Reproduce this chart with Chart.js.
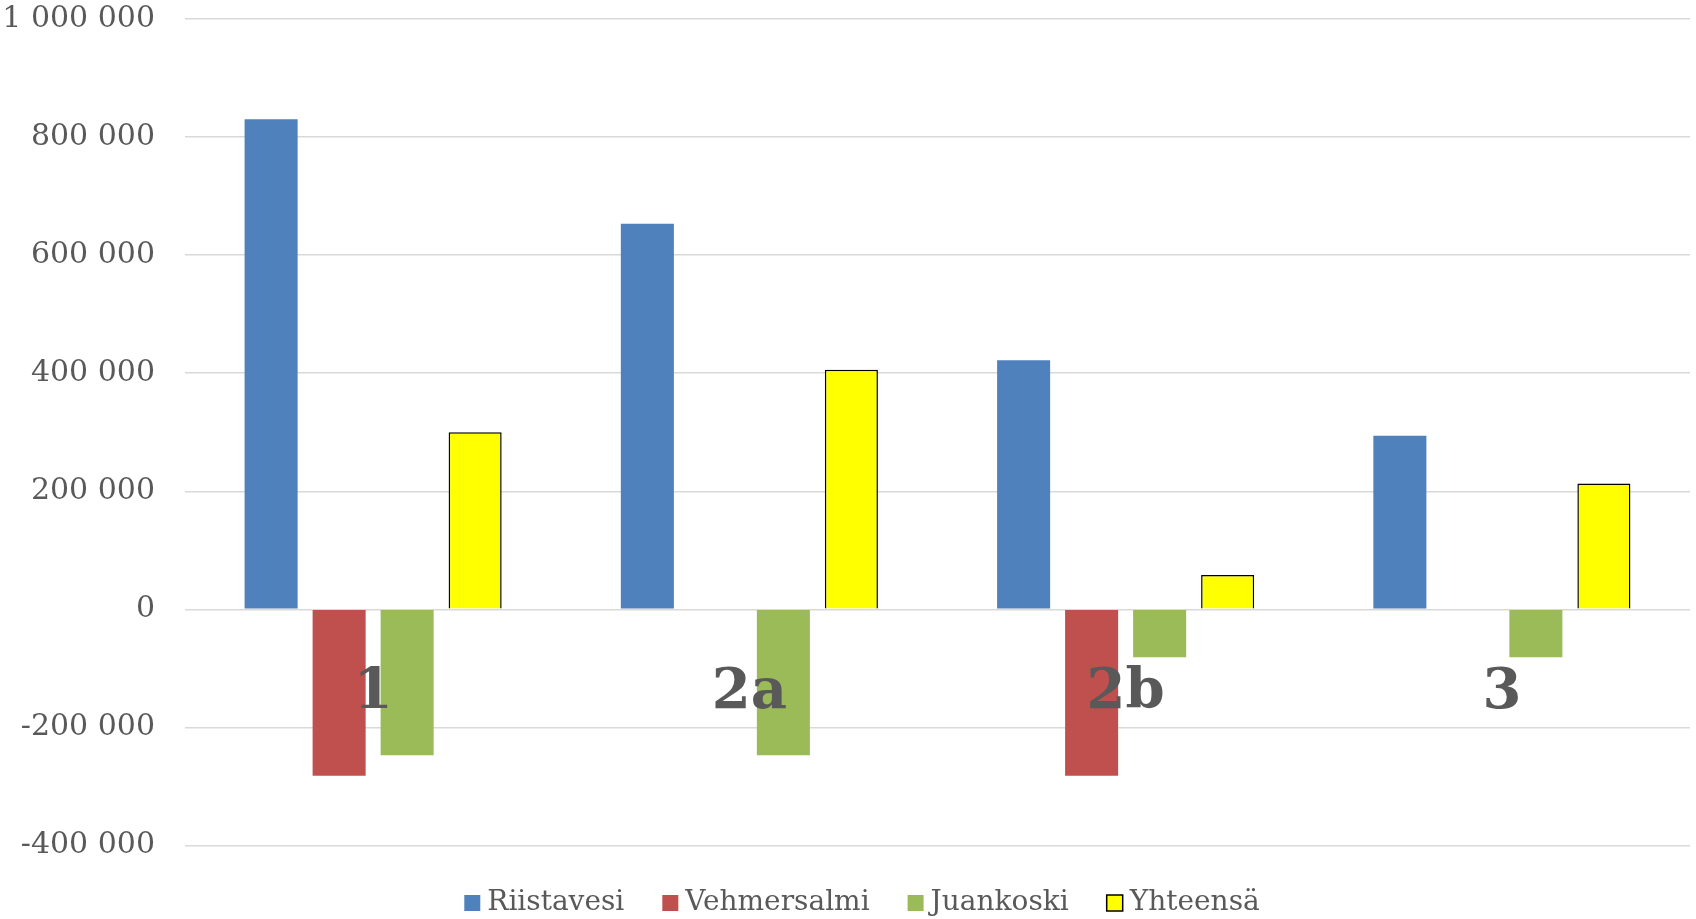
<!DOCTYPE html>
<html>
<head>
<meta charset="utf-8">
<script src="https://cdn.jsdelivr.net/npm/chart.js@4/dist/chart.umd.min.js"></script>
<style>
  html, body { margin: 0; padding: 0; background: #fff; }
  #wrap { width: 1696px; height: 919px; }
</style>
</head>
<body>
<div id="wrap"><canvas id="chart1"></canvas></div>
<script>
// data
var categories = ["1", "2a", "2b", "3"];
var riistavesi = [830000, 653000, 422000, 294000];
var vehmersalmi = [-282000, 0, -282000, 0];
var juankoski = [-247000, -247000, -81000, -81000];
var yhteensa = [300000, 406000, 58000, 213000];
var yTicks = [-400000, -200000, 0, 200000, 400000, 600000, 800000, 1000000];

var textGrey = "#595959";
var serif = "'DejaVu Serif'";

function fmt(v) {
    var s = Math.abs(v).toString().replace(/\B(?=(\d{3})+(?!\d))/g, " ");
    return (v < 0 ? "-" : "") + s;
}

// category names sit just under the zero line
var catLabels = {
    id: "catLabels",
    afterDatasetsDraw: function (chart) {
        var ctx = chart.ctx;
        var x = chart.scales.x, y = chart.scales.y;
        var base = y.getPixelForValue(0) + 99;
        ctx.save();
        ctx.font = "bold 56px " + serif;
        ctx.fillStyle = textGrey;
        ctx.textAlign = "center";
        ctx.textBaseline = "alphabetic";
        categories.forEach(function (c, i) {
            ctx.fillText(c, x.getPixelForValue(i), base);
        });
        ctx.restore();
    }
};

// legend drawn by hand so the gaps match the original
var bottomLegend = {
    id: "bottomLegend",
    afterDraw: function (chart) {
        var ctx = chart.ctx;
        var sets = chart.data.datasets;
        var box = 16, gapText = 7, gapItem = 38;
        var cy = 903;
        ctx.save();
        ctx.font = "28px " + serif;
        var total = 0;
        var widths = sets.map(function (d) { return ctx.measureText(d.label).width; });
        widths.forEach(function (w, i) { total += box + gapText + w + (i ? gapItem : 0); });
        var x = chart.width / 2 + 14 - total / 2;
        sets.forEach(function (d, i) {
            ctx.fillStyle = d.backgroundColor;
            ctx.fillRect(x, cy - box / 2, box, box);
            if (d.borderWidth) {
                ctx.strokeStyle = d.borderColor;
                ctx.lineWidth = d.borderWidth;
                ctx.strokeRect(x, cy - box / 2, box, box);
            }
            ctx.fillStyle = textGrey;
            ctx.textBaseline = "middle";
            ctx.textAlign = "left";
            ctx.fillText(d.label, x + box + gapText, cy);
            x += box + gapText + widths[i] + gapItem;
        });
        ctx.restore();
    }
};

var ctx1 = document.getElementById("chart1").getContext("2d");
var chart1 = new Chart(ctx1, {
    type: "bar",
    data: {
        labels: categories,
        datasets: [
            { label: "Riistavesi", data: riistavesi, backgroundColor: "#4F81BD", borderWidth: 0 },
            { label: "Vehmersalmi", data: vehmersalmi, backgroundColor: "#C0504D", borderWidth: 0 },
            { label: "Juankoski", data: juankoski, backgroundColor: "#9BBB59", borderWidth: 0 },
            { label: "Yhteensä", data: yhteensa, backgroundColor: "#FFFF00", borderColor: "#000000", borderWidth: 1.5 }
        ]
    },
    options: {
        responsive: true,
        maintainAspectRatio: false,
        animation: false,
        layout: { padding: { left: 0, right: 6, top: 19, bottom: 73.5 } },
        datasets: {
            bar: { categoryPercentage: 0.723, barPercentage: 0.78 }
        },
        scales: {
            x: {
                display: false
            },
            y: {
                min: -400000,
                max: 1000000,
                afterBuildTicks: function (axis) {
                    axis.ticks = yTicks.map(function (v) { return { value: v }; });
                },
                afterFit: function (axis) {
                    axis.width = 185;
                    axis.paddingTop = 0;
                    axis.paddingBottom = 0;
                },
                border: { display: false },
                grid: { color: "#D9D9D9", lineWidth: 1.5, drawTicks: false },
                ticks: {
                    padding: 30,
                    color: textGrey,
                    font: { family: serif, size: 30 },
                    callback: function (v) { return fmt(v); }
                }
            }
        },
        plugins: {
            legend: { display: false },
            tooltip: { enabled: false }
        }
    },
    plugins: [catLabels, bottomLegend]
});
</script>
</body>
</html>
